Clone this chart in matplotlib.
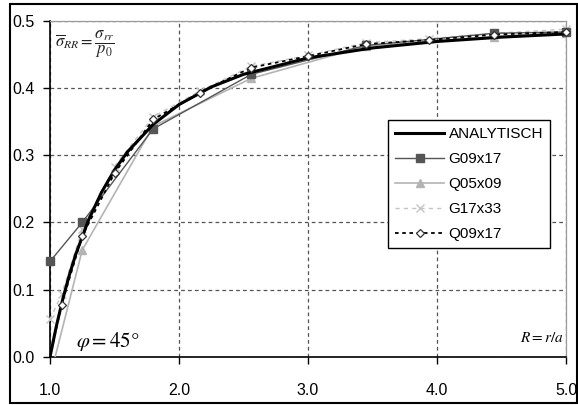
import matplotlib
matplotlib.use("Agg")
import matplotlib.pyplot as plt
from matplotlib.patches import Rectangle

plt.rcParams["font.family"] = ["Liberation Sans", "DejaVu Sans"]
plt.rcParams["mathtext.fontset"] = "stix"

# Analytical solution sigma_RR at phi = 45 deg, tabulated
r_ana = [1.0, 1.05, 1.1, 1.15, 1.2, 1.3, 1.4, 1.5, 1.6, 1.8, 2.0, 2.25,
         2.5, 3.0, 3.5, 4.0, 4.5, 5.0]
s_ana = [0.0, 0.0465, 0.0868, 0.1219, 0.1528, 0.2041, 0.2449, 0.2778,
         0.3047, 0.3457, 0.375, 0.4012, 0.42, 0.4444, 0.4592, 0.4688,
         0.4753, 0.48]

# FE results
r_g09 = [1.0, 1.25, 1.8, 2.56, 3.45, 4.44, 5.0]
s_g09 = [0.142, 0.200, 0.339, 0.420, 0.463, 0.481, 0.483]

r_q05 = [1.0, 1.25, 1.8, 2.56, 3.45, 4.44, 5.0]
s_q05 = [-0.03, 0.159, 0.343, 0.414, 0.462, 0.476, 0.482]

r_g17 = [1.0, 1.09, 1.25, 1.5, 1.8, 2.16, 2.56, 3.0, 3.45, 3.94, 4.44, 5.0]
s_g17 = [0.056, 0.093, 0.190, 0.283, 0.357, 0.395, 0.432, 0.448, 0.467,
         0.473, 0.481, 0.487]

r_q09 = [1.0, 1.09, 1.25, 1.5, 1.8, 2.16, 2.56, 3.0, 3.45, 3.94, 4.44, 5.0]
s_q09 = [0.0, 0.078, 0.180, 0.273, 0.353, 0.393, 0.430, 0.447, 0.465,
         0.471, 0.479, 0.483]

x_ticks = [1.0, 2.0, 3.0, 4.0, 5.0]
y_ticks = [0.0, 0.1, 0.2, 0.3, 0.4, 0.5]

fig = plt.figure(figsize=(5.78, 4.05), dpi=100)
ax = fig.add_axes([50 / 578, 1 - 357 / 405, 516 / 578, 336.5 / 405])

ax.plot(r_ana, s_ana, color="black", lw=2.2, label="ANALYTISCH", zorder=5)
ax.plot(r_g09, s_g09, color="#555555", lw=1.0, marker="s", ms=5.5,
        mfc="#555555", mec="#555555", label="G09x17", clip_on=False, zorder=4)
ax.plot(r_q05, s_q05, color="#b4b4b4", lw=1.2, marker="^", ms=6,
        mfc="#b4b4b4", mec="#b4b4b4", label="Q05x09", zorder=3)
ax.plot(r_g17, s_g17, color="#c4c4c4", lw=1.0, ls=(0, (3, 3)), marker="x",
        ms=6, mew=1.0, label="G17x33", clip_on=False, zorder=3)
ax.plot(r_q09, s_q09, color="black", lw=1.3, ls=(0, (2, 2)), marker="D",
        ms=4, mfc="white", mec="#333333", mew=0.9, label="Q09x17",
        markevery=list(range(1, len(r_q09))), clip_on=False, zorder=6)

ax.set_xlim(1.0, 5.0)
ax.set_ylim(0.0, 0.5)
ax.set_xticks(x_ticks)
ax.set_yticks(y_ticks)
ax.set_xticklabels([f"{v:.1f}" for v in x_ticks])
ax.set_yticklabels([f"{v:.1f}" for v in y_ticks])
ax.tick_params(axis="both", direction="out", length=5, width=1.0,
               labelsize=11.5, colors="black")
ax.tick_params(axis="x", pad=14)
ax.tick_params(axis="y", pad=6)

ax.grid(True, color="#555555", ls=(0, (3, 2.5)), lw=0.9)
ax.set_axisbelow(True)
for side in ("left", "bottom"):
    ax.spines[side].set_color("black")
    ax.spines[side].set_linewidth(1.2)
for side in ("top", "right"):
    ax.spines[side].set_color("#999999")
    ax.spines[side].set_linewidth(0.9)

ax.text(0.01, 0.93, r"$\overline{\sigma}_{RR}=\dfrac{\sigma_{rr}}{p_0}$",
        transform=ax.transAxes, fontsize=12, va="center", ha="left",
        color="#222222")
ax.text(0.05, 0.045, r"$\varphi = 45°$", transform=ax.transAxes,
        fontsize=15, va="center", ha="left")
ax.text(0.995, 0.055, r"$R = r/a$", transform=ax.transAxes,
        fontsize=11, va="center", ha="right")

leg = ax.legend(loc="upper right", bbox_to_anchor=(0.969, 0.704),
                borderaxespad=0, fancybox=False, framealpha=1,
                edgecolor="black", fontsize=11, handlelength=3.2,
                labelspacing=0.72, handletextpad=0.3, borderpad=0.45)
leg.get_frame().set_linewidth(1.0)

fig.patches.append(Rectangle((10 / 578, 2 / 405), 567 / 578, 399 / 405,
                             transform=fig.transFigure, fill=False,
                             edgecolor="black", lw=1.5))

fig.savefig("out.png", dpi=100)
